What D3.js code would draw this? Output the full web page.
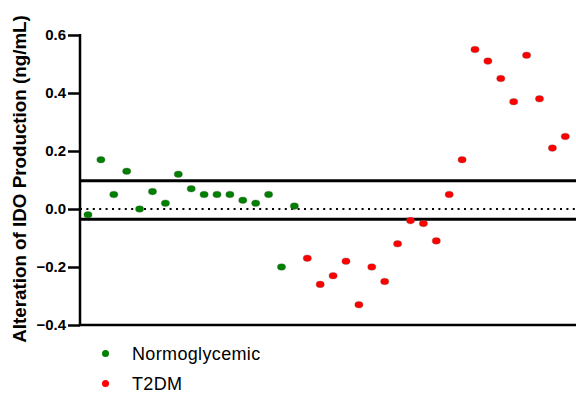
<!DOCTYPE html>
<html><head><meta charset="utf-8">
<script src="https://cdn.jsdelivr.net/npm/d3@7"></script>
<style>body{margin:0;background:#fff}svg{display:block}</style>
</head><body>
<script>
const normoValues = [-0.02, 0.17, 0.05, 0.13, 0.00, 0.06, 0.02, 0.12, 0.07, 0.05, 0.05, 0.05, 0.03, 0.02, 0.05, -0.20, 0.01];
const t2dmValues = [-0.17, -0.26, -0.23, -0.18, -0.33, -0.20, -0.25, -0.12, -0.04, -0.05, -0.11, 0.05, 0.17, 0.55, 0.51, 0.45, 0.37, 0.53, 0.38, 0.21, 0.25];
const yTicks = [-0.4, -0.2, 0.0, 0.2, 0.4, 0.6];
const refLines = [0.097, -0.035];
const seriesNames = ["Normoglycemic", "T2DM"];
const seriesColors = ["#008000", "#ff0000"];

const W = 576, H = 394;
const svg = d3.select("body").append("svg").attr("width", W).attr("height", H);
const font = "Arial, 'Liberation Sans', sans-serif";

const x = d3.scaleLinear().domain([-0.62, 37.83]).range([80, 576]);
const y = d3.scaleLinear().domain([-0.4, 0.6]).range([325, 35]);

const pts = normoValues.map((v, i) => ({i, v, s: 0}))
  .concat(t2dmValues.map((v, j) => ({i: normoValues.length + j, v, s: 1})));

// reference lines
svg.selectAll("line.ref").data(refLines).enter().append("line")
  .attr("x1", 80).attr("x2", 576).attr("y1", d => y(d)).attr("y2", d => y(d))
  .attr("stroke", "#000").attr("stroke-width", 3);
svg.append("line").attr("x1", 80).attr("x2", 576).attr("y1", y(0)).attr("y2", y(0))
  .attr("stroke", "#000").attr("stroke-width", 2).attr("stroke-dasharray", "2,4.4");

// y axis
const yAxis = d3.axisLeft(y).tickValues(yTicks).tickFormat(d3.format(".1f")).tickSize(12).tickPadding(2);
const gy = svg.append("g").attr("transform", "translate(80,0)").call(yAxis);
gy.select(".domain").attr("stroke", "#000").attr("stroke-width", 2.5).attr("d", `M0,${y(0.6)-1}V${y(-0.4)+1}`);
gy.selectAll(".tick line").attr("stroke", "#000").attr("stroke-width", 2.5);
gy.selectAll(".tick text").attr("font-family", font).attr("font-weight", "bold").attr("font-size", 15).attr("fill", "#000");

// x axis line
svg.append("line").attr("x1", 79).attr("x2", 576).attr("y1", 325).attr("y2", 325)
  .attr("stroke", "#000").attr("stroke-width", 2.5);

// points
svg.selectAll("ellipse.pt").data(pts).enter().append("ellipse")
  .attr("cx", d => x(d.i)).attr("cy", d => y(d.v)).attr("rx", 4.1).attr("ry", 3.3)
  .attr("fill", d => seriesColors[d.s]).attr("stroke", "#555").attr("stroke-width", 0.3);

// y label
svg.append("text").attr("transform", `translate(26,179) rotate(-90)`)
  .attr("text-anchor", "middle").attr("font-family", font).attr("font-weight", "bold")
  .attr("font-size", 18.8).text("Alteration of IDO Production (ng/mL)");

// legend
const lg = svg.selectAll("g.lg").data(seriesNames).enter().append("g")
  .attr("transform", (d, i) => `translate(105.5,${353.5 + i * 30})`);
lg.append("circle").attr("r", 3.5).attr("fill", (d, i) => seriesColors[i]);
lg.append("text").attr("x", 26.5).attr("dy", "0.35em").attr("font-family", font)
  .attr("font-size", 18).attr("letter-spacing", 0.35).text(d => d);
</script>
</body></html>
